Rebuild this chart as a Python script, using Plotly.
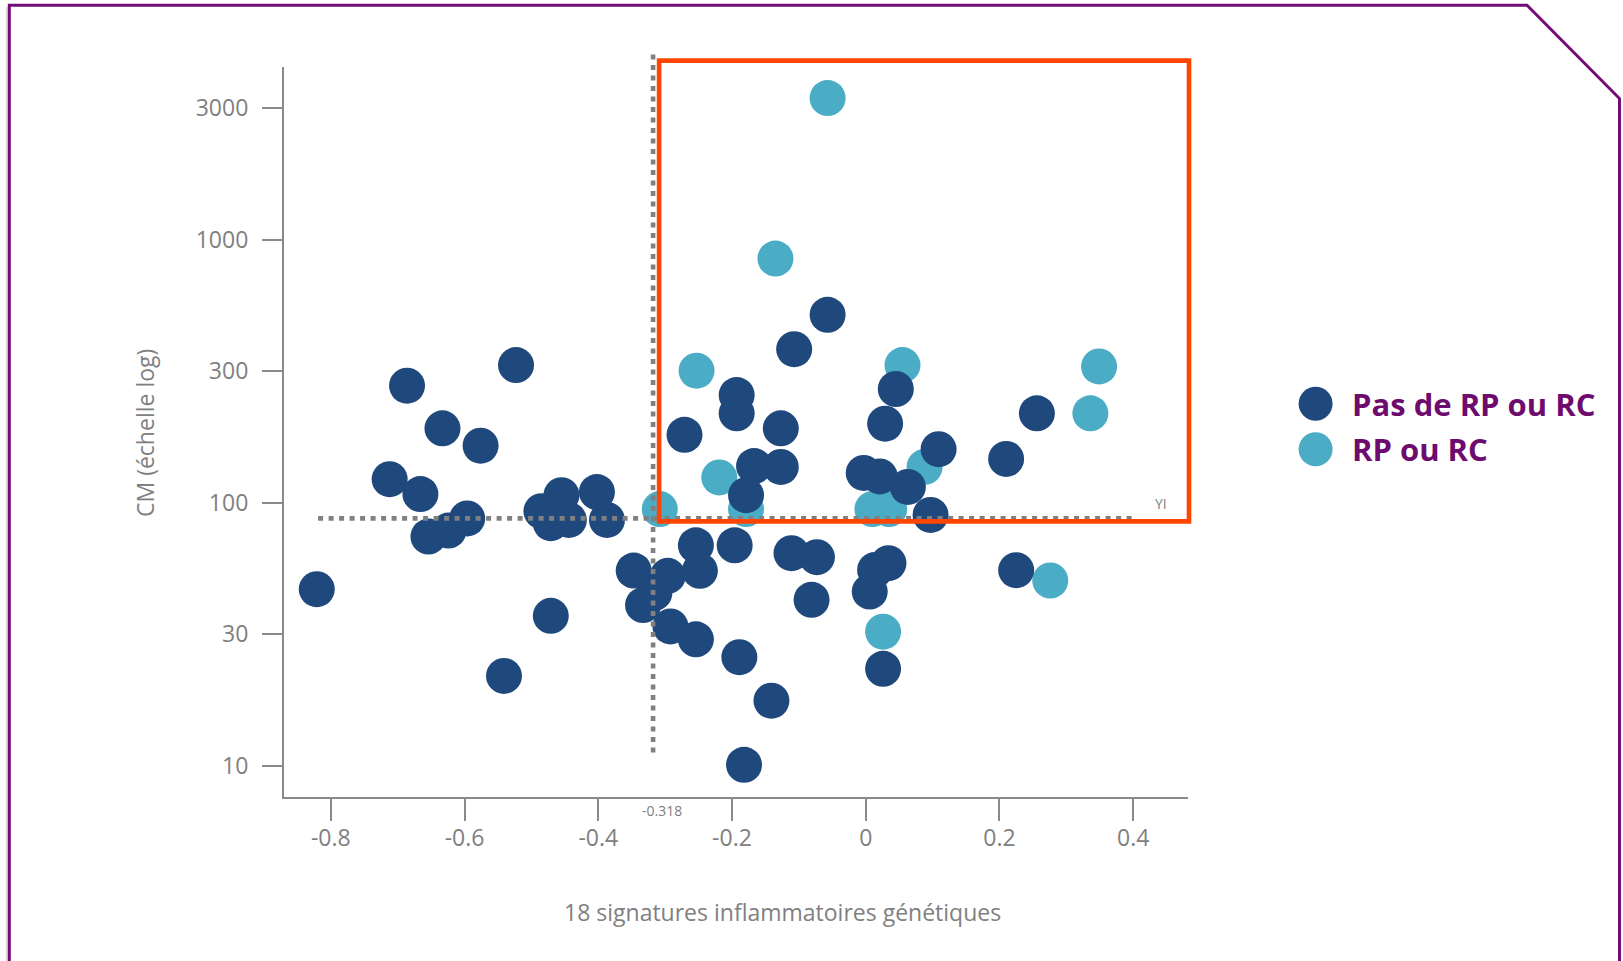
import math
import plotly.graph_objects as go

# --- data -------------------------------------------------------------
# 18 inflammatory gene signatures score (x) vs CM (log scale, y)
no_resp_x = [-0.821, -0.686, -0.633, -0.576, -0.712, -0.666, -0.654, -0.624, -0.596,
             -0.523, -0.485, -0.471, -0.455, -0.444, -0.402, -0.387, -0.471, -0.541,
             -0.347, -0.333, -0.316, -0.296, -0.292, -0.254, -0.248, -0.254, -0.196,
             -0.189, -0.141, -0.182, -0.111, -0.073, -0.081, 0.014, 0.034, 0.006,
             0.026, 0.225,
             -0.057, -0.107, -0.193, -0.193, -0.271, -0.127, 0.045, 0.029, 0.256,
             0.210, 0.109, -0.127, -0.167, -0.179, -0.003, 0.021, 0.063, 0.097]
no_resp_y = [47, 279, 192, 165, 123, 108, 74.5, 78.5, 87.3,
             334, 93, 83.7, 107, 86.1, 110, 86.1, 37.2, 22,
             55.3, 40.9, 45.5, 52.8, 33.9, 69, 55.2, 30.3, 69,
             25.9, 17.7, 10.1, 64.4, 62.2, 42.8, 55.6, 59, 46,
             23.4, 55.5,
             519, 384, 257, 219, 181.5, 192, 271, 200, 219,
             147, 160, 137, 138, 107, 130, 126, 115, 90]

resp_x = [-0.057, -0.135, -0.253, 0.055, 0.349, 0.336, 0.088, -0.219, -0.179,
          -0.308, 0.010, 0.035, 0.026, 0.276]
resp_y = [3460, 849, 318, 334, 330, 219, 137, 125, 94.7,
          94.7, 94.7, 94.7, 32.4, 50.7]

series_names = ["Pas de RP ou RC", "RP ou RC"]

x_tick_vals = [-0.8, -0.6, -0.4, -0.2, 0, 0.2, 0.4]
x_tick_text = ["-0.8", "-0.6", "-0.4", "-0.2", "0", "0.2", "0.4"]
y_tick_vals = [10, 10 ** 1.5, 100, 10 ** 2.5, 1000, 10 ** 3.5]
y_tick_text = ["10", "30", "100", "300", "1000", "3000"]

x_cutoff = -0.318        # vertical threshold
y_cutoff = 87.3          # horizontal threshold

# --- layout geometry --------------------------------------------------
W, H = 1623, 961
ML, MR, MT, MB = 284, 435, 67, 164
PW, PH = W - ML - MR, H - MT - MB
XMIN, XMAX = -0.870, 0.482
YLMIN, YLMAX = 0.882, 3.657

DARK = "#1F497D"
AQUA = "#4BACC6"
GREY = "#808080"
AXIS = "#8A8A8A"
PURPLE = "#6D0B6E"
RED = "#FF4500"
FONT = "Open Sans"


def xp(v):
    """data x -> paper"""
    return (v - XMIN) / (XMAX - XMIN)


def yp(v):
    """data y (log axis) -> paper"""
    return (math.log10(v) - YLMIN) / (YLMAX - YLMIN)


def px(X):
    """page pixel x -> paper"""
    return (X - ML) / PW


def py(Y):
    """page pixel y -> paper"""
    return (H - MB - Y) / PH


fig = go.Figure()

fig.add_trace(go.Scatter(
    x=resp_x, y=resp_y, mode="markers", name=series_names[1],
    marker=dict(size=36, color=AQUA, line=dict(width=0)),
    cliponaxis=False, showlegend=False,
))
fig.add_trace(go.Scatter(
    x=no_resp_x, y=no_resp_y, mode="markers", name=series_names[0],
    marker=dict(size=36, color=DARK, line=dict(width=0)),
    cliponaxis=False, showlegend=False,
))

shapes = []

# outer frame with clipped top-right corner
frame = (f"M {px(9.3)},{py(990)} L {px(9.3)},{py(5.3)} L {px(1527)},{py(5.3)} "
         f"L {px(1619.5)},{py(98.5)} L {px(1619.5)},{py(990)}")
shapes.append(dict(type="path", xref="paper", yref="paper", path=
                   f"M {px(6.8)},{py(990)} L {px(6.8)},{py(7)}",
                   line=dict(color="#DADADA", width=2), layer="below"))
shapes.append(dict(type="path", xref="paper", yref="paper", path=frame,
                   line=dict(color="#730D75", width=3), layer="above"))

# threshold lines (dotted)
shapes.append(dict(type="line", xref="paper", yref="paper",
                   x0=xp(x_cutoff), x1=xp(x_cutoff), y0=yp(11.25), y1=yp(5100),
                   line=dict(color=GREY, width=4.6, dash="5px,5.5px")))
shapes.append(dict(type="line", xref="paper", yref="paper",
                   x0=xp(-0.819), x1=xp(0.405), y0=yp(y_cutoff), y1=yp(y_cutoff),
                   line=dict(color=GREY, width=4.6, dash="5px,5.5px")))

# highlighted upper-right quadrant
shapes.append(dict(type="rect", xref="paper", yref="paper",
                   x0=xp(x_cutoff) + 6 / PW, x1=xp(0.4835),
                   y0=yp(85.1), y1=yp(4800),
                   line=dict(color=RED, width=4.6), fillcolor="rgba(0,0,0,0)"))

# legend symbols
for cy, col in [(403.7, DARK), (449.2, AQUA)]:
    shapes.append(dict(type="circle", xref="paper", yref="paper",
                       xsizemode="pixel", ysizemode="pixel",
                       xanchor=px(1315.6), yanchor=py(cy),
                       x0=-17, x1=17, y0=-17, y1=17,
                       fillcolor=col, line=dict(width=0)))

annotations = [
    dict(text="18 signatures inflammatoires génétiques", xref="paper", yref="paper",
         x=px(782), y=py(912), xanchor="center", yanchor="middle", showarrow=False,
         font=dict(family=FONT, size=23, color=GREY)),
    dict(text="CM (échelle log)", xref="paper", yref="paper", textangle=-90,
         x=px(145), y=py(433), xanchor="center", yanchor="middle", showarrow=False,
         font=dict(family=FONT, size=23, color=GREY)),
    dict(text="-0.318", xref="paper", yref="paper", x=xp(x_cutoff), xshift=9,
         y=py(810), xanchor="center", yanchor="middle", showarrow=False,
         font=dict(family=FONT, size=14, color=GREY)),
    dict(text="YI", xref="paper", yref="paper", x=px(1161), y=py(503),
         xanchor="center", yanchor="middle", showarrow=False,
         font=dict(family=FONT, size=14, color=GREY)),
]
for cy, name in [(403.7, series_names[0]), (449.2, series_names[1])]:
    annotations.append(dict(text=f"<b>{name}</b>", xref="paper", yref="paper",
                            x=px(1350), y=py(cy), xanchor="left", yanchor="middle",
                            showarrow=False,
                            font=dict(family=FONT, size=31, color=PURPLE)))

fig.update_layout(
    width=W, height=H, autosize=False,
    margin=dict(l=ML, r=MR, t=MT, b=MB, pad=0),
    paper_bgcolor="white", plot_bgcolor="white",
    font=dict(family=FONT, color=GREY),
    shapes=shapes, annotations=annotations,
    showlegend=False,
    xaxis=dict(range=[XMIN, XMAX], tickvals=x_tick_vals, ticktext=x_tick_text,
               showgrid=False, zeroline=False, showline=True,
               linecolor=AXIS, linewidth=2.2, ticks="outside", ticklen=22,
               tickwidth=2.2, tickcolor=AXIS, ticklabelstandoff=-3,
               tickfont=dict(family=FONT, size=23, color=GREY)),
    yaxis=dict(type="log", range=[YLMIN, YLMAX], tickvals=y_tick_vals,
               ticktext=y_tick_text, showgrid=False, zeroline=False,
               showline=True, linecolor=AXIS, linewidth=2.2, ticks="outside",
               ticklen=20, tickwidth=2.2, tickcolor=AXIS, ticklabelstandoff=9,
               tickfont=dict(family=FONT, size=23, color=GREY)),
)

fig.write_html("out.html")
